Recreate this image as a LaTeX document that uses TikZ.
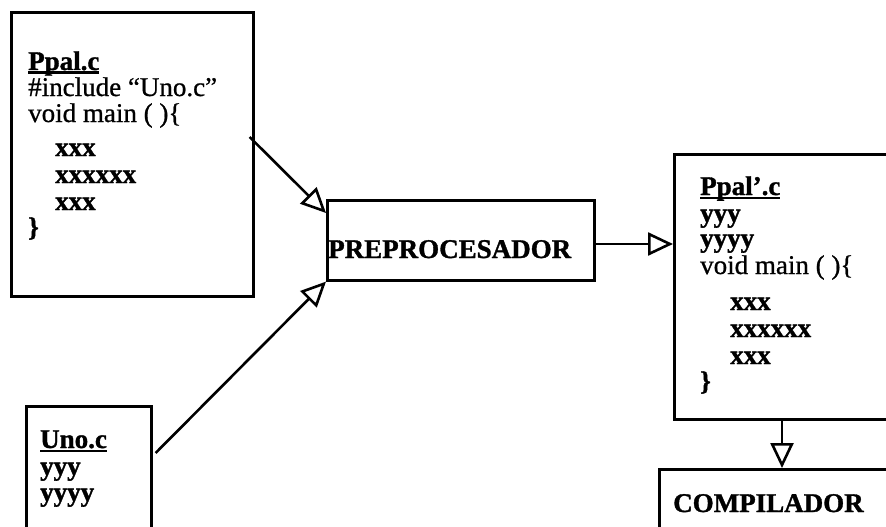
\documentclass[tikz,border=0pt]{standalone}
\usepackage{fontspec}
\setmainfont{Liberation Serif}[UprightFeatures={FakeBold=0.8}, BoldFeatures={FakeBold=1.2}]
\usetikzlibrary{arrows.meta,calc}
\newcommand{\myul}[1]{\setbox0\hbox{#1}\rlap{\vrule height -1.5pt depth 4pt width \wd0}\box0}
\begin{document}
\begin{tikzpicture}[x=1pt,y=-1pt,
  box/.style={draw, rectangle, anchor=north west, inner sep=0pt, line width=2.6pt},
  txt/.style={anchor=base west, inner sep=0pt, font=\fontsize{27}{27}\selectfont},
  btxt/.style={txt, font=\fontsize{27}{27}\selectfont\bfseries},
  arr/.style={line width=2.6pt, -{Triangle[open, length=25pt, width=23pt, line width=2.6pt]}}]
\clip (0,0) rectangle (886,527);
% boxes
\node[box, minimum width=242pt, minimum height=284pt] (ppal) at (10,11) {};
\node[box, minimum width=267pt, minimum height=80pt] (pre) at (326,199) {};
\node[box, minimum width=125pt, minimum height=160pt] (uno) at (25,405) {};
\node[box, minimum width=250pt, minimum height=265pt] (ppaltwo) at (673,153) {};
\node[box, minimum width=260pt, minimum height=120pt] (comp) at (658,468) {};
% Ppal.c text
\node[btxt] (t1) at (28,70) {\myul{Ppal.c}};
\node[txt] (t2) at (28,96) {\#include “Uno.c”};
\node[txt] (t3) at (28,122) {void main ( )\{};
\node[btxt] (t4) at (55,156) {xxx};
\node[btxt] (t5) at (55,183) {xxxxxx};
\node[btxt] (t6) at (55,210) {xxx};
\node[btxt] (t7) at (28,236) {\}};
% preprocesador
\node[btxt] (pt) at (328,258) {PREPROCESADOR};
% Uno.c text
\node[btxt] (u1) at (40,448) {\myul{Uno.c}};
\node[btxt] (u2) at (40,475) {yyy};
\node[btxt] (u3) at (40,501) {yyyy};
% Ppal'.c text
\node[btxt] (r1) at (700,195) {\myul{Ppal’.c}};
\node[btxt] (r2) at (700,222) {yyy};
\node[btxt] (r3) at (700,247) {yyyy};
\node[txt] (r4) at (700,274) {void main ( )\{};
\node[btxt] (r5) at (730,310) {xxx};
\node[btxt] (r6) at (730,337) {xxxxxx};
\node[btxt] (r7) at (730,364) {xxx};
\node[btxt] (r8) at (700,390) {\}};
% compilador
\node[btxt] (ct) at (673,512) {COMPILADOR};
% connectors
\draw[arr] ($(ppal.north east)+(-5,126)$) -- ($(pre.north west)+(0,14)$);
\draw[arr] ($(uno.north east)+(3,48)$) -- (pre.south west);
\draw[arr] ($(pre.north east)+(0,45)$) -- ($(ppaltwo.north west)+(0,91)$);
\draw[arr] ($(ppaltwo.south west)+(109,0)$) -- ($(comp.north west)+(124,0)$);
\end{tikzpicture}
\end{document}
